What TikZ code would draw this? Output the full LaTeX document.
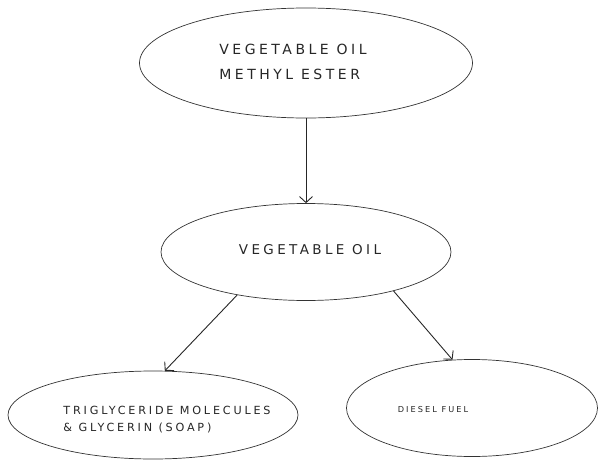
\documentclass[tikz,border=0pt]{standalone}
\usepackage{fontspec}
\setmainfont{DejaVu Sans}
\newfontfamily\handfont[LetterSpace=25]{DejaVu Sans}
\usetikzlibrary{shapes.geometric,arrows.meta}
\begin{document}
\begin{tikzpicture}[x=1pt,y=-1pt,
	bubble/.style={ellipse,draw=black!80,line width=0.7pt,inner sep=0},
	scrawl/.style 2 args={inner sep=0,align=left,text=black!85,
	font=\handfont\fontsize{#1}{#2}\selectfont},
	link/.style={draw=black!85,line width=0.9pt,-{Straight Barb[length=6pt,width=13pt]}}]
\useasboundingbox (0,0) rectangle (598,461);
% ellipses
\node[bubble,minimum width=333,minimum height=110] (oilester) at (306,63) {};
\node[bubble,minimum width=290,minimum height=97] (oil) at (306,252) {};
\node[bubble,minimum width=290,minimum height=88] (glycerin) at (153,415) {};
\node[bubble,minimum width=251,minimum height=97] (diesel) at (472,408) {};
% labels
\node[scrawl={14}{25}] (oilester text) at (293,62) {VEGETABLE OIL\\METHYL ESTER};
\node[scrawl={13.5}{16}] (oil text) at (310,250) {VEGETABLE OIL};
\node[scrawl={11.2}{17}] (glycerin text) at (167,420) {TRIGLYCERIDE MOLECULES\\\& GLYCERIN (SOAP)};
\node[scrawl={8.2}{10}] (diesel text) at (433,410) {DIESEL FUEL};
% arrows
\draw[link] (oilester.south) -- (oil.north);
\draw[link] (oil.212) -- (glycerin.75);
\draw[link] (oil.336) -- (diesel.112);
\end{tikzpicture}
\end{document}
